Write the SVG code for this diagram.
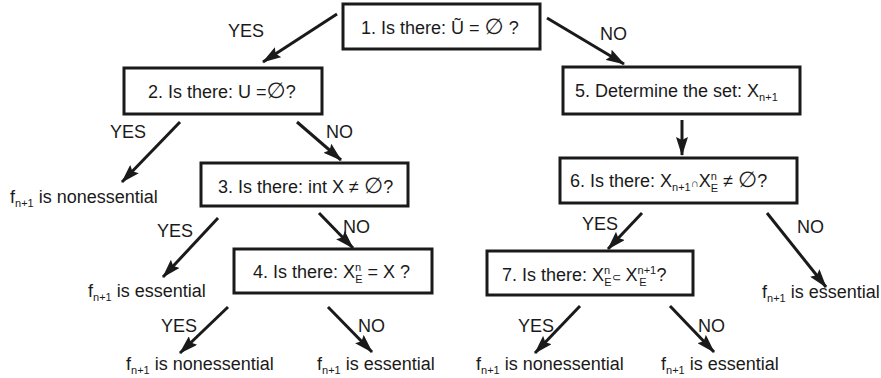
<svg xmlns="http://www.w3.org/2000/svg" width="881" height="378" viewBox="0 0 881 378">
<style>
text{font-family:"Liberation Sans",Arial,sans-serif;font-size:18px;fill:#1a1a1a}
.box{fill:#fff;stroke:#1a1a1a;stroke-width:3}
.c{stroke:#1a1a1a;stroke-width:3;fill:none;marker-end:url(#ah)}
.s{font-size:11px}
.e{font-size:22px;font-family:"DejaVu Sans",sans-serif;font-style:italic}
</style>
<defs>
<marker id="ah" markerUnits="userSpaceOnUse" markerWidth="20" markerHeight="12" refX="18" refY="6" orient="auto">
<path d="M0,0 L19,6 L0,12 L3,6 z" fill="#1a1a1a"/>
</marker>
</defs>
<rect width="881" height="378" fill="#fff"/>
<g id="connectors">
<line class="c" x1="337" y1="14" x2="263" y2="62"/>
<line class="c" x1="547" y1="18" x2="624" y2="64"/>
<line class="c" x1="180" y1="122" x2="122" y2="182"/>
<line class="c" x1="297" y1="122" x2="341" y2="160"/>
<line class="c" x1="682" y1="120" x2="682" y2="155"/>
<line class="c" x1="218" y1="218" x2="163" y2="277"/>
<line class="c" x1="319" y1="213" x2="353" y2="248"/>
<line class="c" x1="642" y1="213" x2="608" y2="249"/>
<line class="c" x1="767" y1="213" x2="826" y2="287"/>
<line class="c" x1="228" y1="307" x2="180" y2="353"/>
<line class="c" x1="328" y1="307" x2="372" y2="352"/>
<line class="c" x1="580" y1="306" x2="535" y2="353"/>
<line class="c" x1="670" y1="306" x2="714" y2="352"/>
<text x="228" y="37">YES</text>
<text x="600" y="40">NO</text>
<text x="110" y="138">YES</text>
<text x="326" y="138">NO</text>
<text x="157" y="237">YES</text>
<text x="343" y="233">NO</text>
<text x="582" y="230">YES</text>
<text x="797" y="233">NO</text>
<text x="161" y="332">YES</text>
<text x="358" y="332">NO</text>
<text x="518" y="332">YES</text>
<text x="698" y="332">NO</text>
</g>
<g id="n1">
<rect class="box" x="343" y="4" width="197" height="45"/>
<text x="361" y="34">1. Is there: Ũ = <tspan class="e">∅</tspan> ?</text>
</g>
<g id="n2">
<rect class="box" x="124" y="68" width="198" height="46"/>
<text x="148" y="98">2. Is there: U =<tspan class="e">∅</tspan>?</text>
</g>
<g id="n5">
<rect class="box" x="563" y="67" width="237" height="47"/>
<text x="575" y="97">5. Determine the set: X<tspan class="s" dy="4">n+1</tspan></text>
</g>
<g id="n3">
<rect class="box" x="201" y="163" width="207" height="43"/>
<text x="218" y="193">3. Is there: int X ≠ <tspan class="e">∅</tspan>?</text>
</g>
<g id="n6">
<rect class="box" x="560" y="158" width="237" height="45"/>
<text x="570" y="187">6. Is there: X<tspan class="s" dy="4">n+1</tspan><tspan class="s" dy="-4">∩</tspan>X<tspan class="s" dy="-7">n</tspan><tspan class="s" dx="-6" dy="12">E</tspan><tspan dy="-5"> ≠ </tspan><tspan class="e">∅</tspan>?</text>
</g>
<g id="n4">
<rect class="box" x="234" y="249" width="198" height="44"/>
<text x="253" y="278">4. Is there: X<tspan class="s" dy="-7">n</tspan><tspan class="s" dx="-6" dy="12">E</tspan><tspan dy="-5"> = X ?</tspan></text>
</g>
<g id="n7">
<rect class="box" x="487" y="251" width="206" height="44"/>
<text x="502" y="281">7. Is there: X<tspan class="s" dy="-7">n</tspan><tspan class="s" dx="-6" dy="12">E</tspan><tspan class="s" dy="-5">⊂</tspan> X<tspan class="s" dy="-7">n+1</tspan><tspan class="s" dx="-17" dy="12">E</tspan><tspan dx="10" dy="-5">?</tspan></text>
</g>
<g id="leaf1">
<text x="10" y="203">f<tspan class="s" dy="4">n+1</tspan><tspan dy="-4"> is nonessential</tspan></text>
</g>
<g id="leaf2">
<text x="88" y="297">f<tspan class="s" dy="4">n+1</tspan><tspan dy="-4"> is essential</tspan></text>
</g>
<g id="leaf3">
<text x="762" y="298">f<tspan class="s" dy="4">n+1</tspan><tspan dy="-4"> is essential</tspan></text>
</g>
<g id="leaf4">
<text x="126" y="370">f<tspan class="s" dy="4">n+1</tspan><tspan dy="-4"> is nonessential</tspan></text>
</g>
<g id="leaf5">
<text x="317" y="370">f<tspan class="s" dy="4">n+1</tspan><tspan dy="-4"> is essential</tspan></text>
</g>
<g id="leaf6">
<text x="476" y="370">f<tspan class="s" dy="4">n+1</tspan><tspan dy="-4"> is nonessential</tspan></text>
</g>
<g id="leaf7">
<text x="661" y="370">f<tspan class="s" dy="4">n+1</tspan><tspan dy="-4"> is essential</tspan></text>
</g>
</svg>
